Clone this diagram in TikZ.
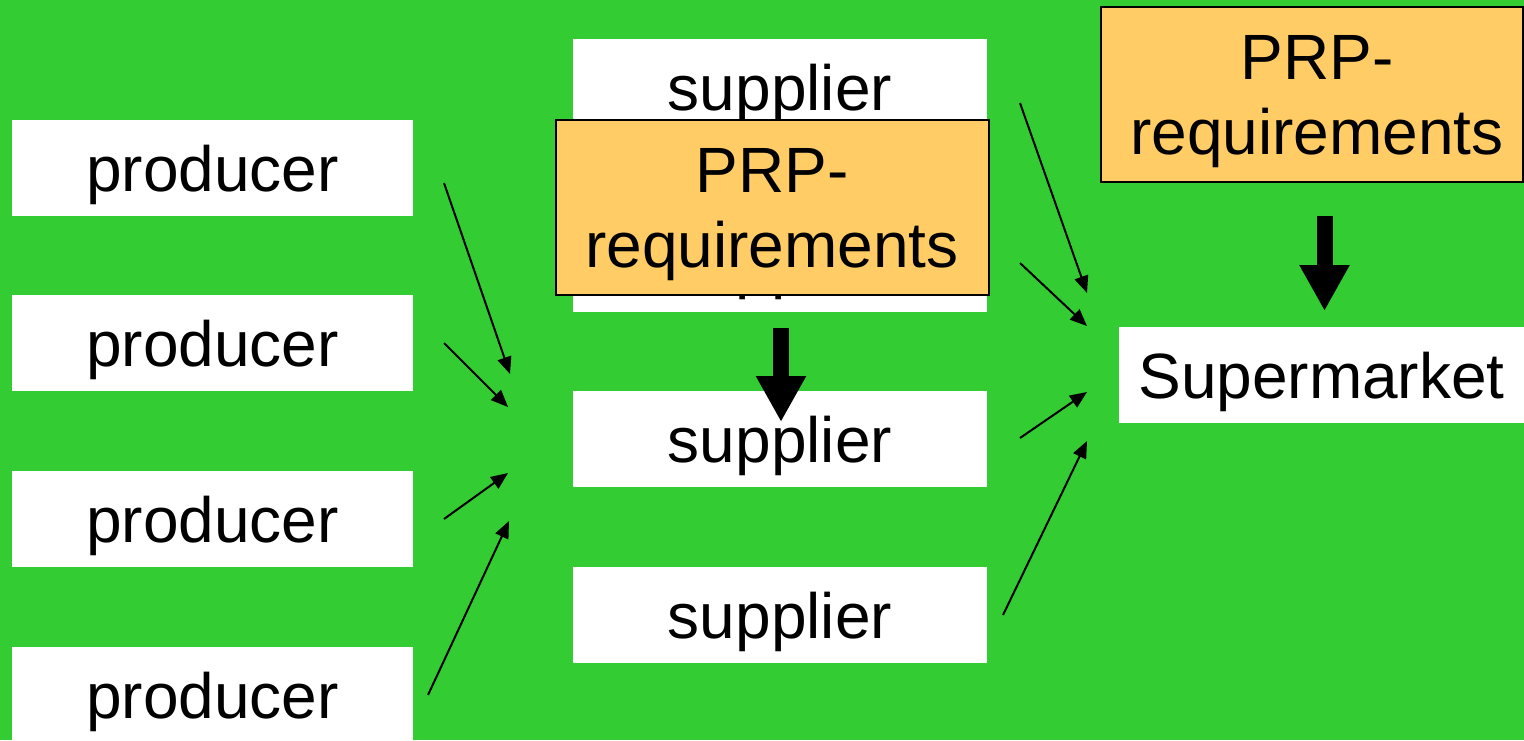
\documentclass[tikz,border=0pt]{standalone}
\usepackage{fontspec}
\setmainfont{Liberation Sans}
\usetikzlibrary{arrows.meta}
\definecolor{field}{HTML}{33CC33}
\definecolor{prpfill}{HTML}{FFCC66}
\newcommand\diagfont{\fontsize{32pt}{37.5pt}\selectfont}
\begin{document}
\begin{tikzpicture}[x=0.5pt,y=-0.5pt,
  chainbox/.style={fill=white,draw=none,inner sep=0pt,minimum height=48pt,
    text height=26.5pt,text depth=3.2pt,font=\diagfont},
  prodbox/.style={chainbox,minimum width=200.5pt},
  suppbox/.style={chainbox,minimum width=207pt},
  marketbox/.style={chainbox,minimum width=202.5pt},
  prpbox/.style={fill=prpfill,draw=black,line width=0.75pt,inner sep=0pt,minimum height=87.5pt},
  prptext/.style={align=center,inner sep=0pt,font=\diagfont},
  flow/.style={line width=1pt,-{Triangle[length=8.5pt,width=7pt]}},
  fat/.style={line width=8pt,-{Triangle[length=23pt,width=23.5pt]}},
]
\useasboundingbox (0,0) rectangle (1524,740);
\clip (0,0) rectangle (1524,740);
\fill[field] (0,0) rectangle (1524,740);

% producers
\node[prodbox] (p1) at (212.5,168) {producer};
\node[prodbox] (p2) at (212.5,343) {producer};
\node[prodbox] (p3) at (212.5,519) {producer};
\node[prodbox] (p4) at (212.5,695) {producer};

% suppliers
\node[suppbox] (s1) at (780,87) {supplier};
\node[suppbox] (s2) at (780,263.5) {supplier};
\node[suppbox] (s3) at (780,439) {supplier};
\node[suppbox] (s4) at (780,615) {supplier};

% supermarket
\node[marketbox] (sm) at (1321.5,375) {Supermarket};

% requirement boxes
\node[prpbox,minimum width=216.5pt] (prp1) at (772.5,207.5) {};
\node[prptext] (prp1t) at (772,214.5) {PRP-\\requirements};
\node[prpbox,minimum width=211pt] (prp2) at (1312,94.5) {};
\node[prptext] (prp2t) at (1317,101.5) {PRP-\\requirements};

% flow ends: producers to suppliers
\coordinate (a1s) at (444,183); \coordinate (a1e) at (510,374);
\coordinate (a2s) at (444,343); \coordinate (a2e) at (508,407);
\coordinate (a3s) at (444,519); \coordinate (a3e) at (508,473);
\coordinate (a4s) at (428,695); \coordinate (a4e) at (509,521);
% flow ends: suppliers to supermarket
\coordinate (b1s) at (1020,103); \coordinate (b1e) at (1087,293);
\coordinate (b2s) at (1020,263); \coordinate (b2e) at (1087,326);
\coordinate (b3s) at (1020,438); \coordinate (b3e) at (1087,392);
\coordinate (b4s) at (1003,615); \coordinate (b4e) at (1087,441);

\draw[flow] (a1s) -- (a1e);
\draw[flow] (a2s) -- (a2e);
\draw[flow] (a3s) -- (a3e);
\draw[flow] (a4s) -- (a4e);
\draw[flow] (b1s) -- (b1e);
\draw[flow] (b2s) -- (b2e);
\draw[flow] (b3s) -- (b3e);
\draw[flow] (b4s) -- (b4e);

% requirements pushed down the chain
\coordinate (m1s) at (781,328); \coordinate (m1e) at (781,422);
\coordinate (m2s) at (1324.5,216); \coordinate (m2e) at (1324.5,311);
\draw[fat] (m1s) -- (m1e);
\draw[fat] (m2s) -- (m2e);
\end{tikzpicture}
\end{document}
